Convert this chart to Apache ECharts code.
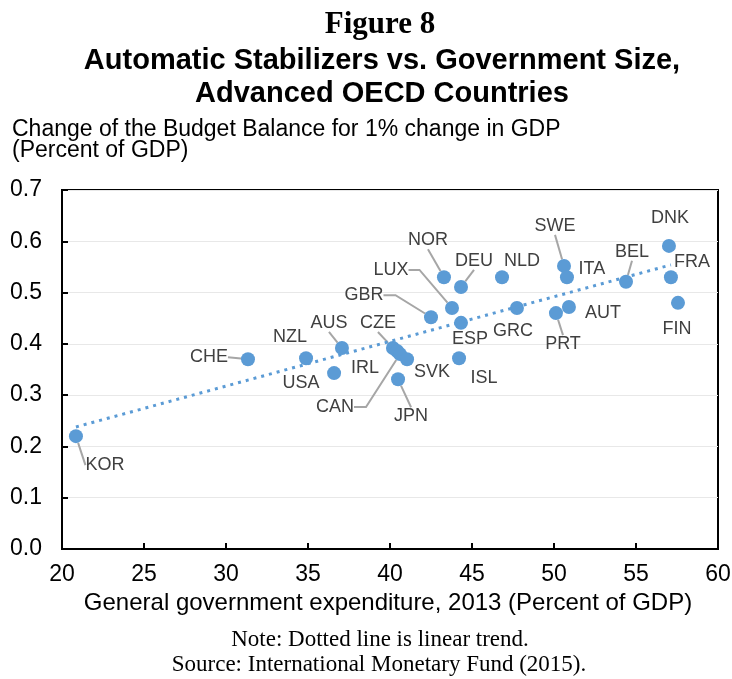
<!DOCTYPE html>
<html>
<head>
<meta charset="utf-8">
<script src="https://cdn.jsdelivr.net/npm/echarts@6/dist/echarts.min.js"></script>
<style>
html,body{margin:0;padding:0;background:#fff;}
#chart{width:732px;height:679px;}
</style>
</head>
<body>
<div id="chart"></div>
<script>
// ---- Data ----
const countries   = ['KOR','CHE','NZL','USA','AUS','CZE','IRL','CAN','SVK','JPN','ISL','ESP','GRC','GBR','LUX','NOR','DEU','NLD','SWE','ITA','PRT','AUT','BEL','DNK','FRA','FIN'];
const expenditure = [20.85, 31.34, 34.88, 36.59, 37.07, 40.18, 40.43, 40.61, 41.04, 40.49, 44.21, 44.33, 47.74, 42.50, 43.78, 43.29, 44.33, 46.83, 50.61, 50.79, 50.12, 50.91, 54.39, 57.01, 57.13, 57.56];
const stabilizer  = [0.220, 0.370, 0.372, 0.343, 0.392, 0.392, 0.386, 0.380, 0.370, 0.331, 0.372, 0.441, 0.470, 0.452, 0.470, 0.530, 0.511, 0.530, 0.552, 0.530, 0.460, 0.472, 0.521, 0.591, 0.530, 0.480];
const trendX = [20.85, 57.13];
const trendY = [0.238, 0.554];

// ---- Label placement (offsets of label centre from its point, in px) ----
const labelOffsets = {
  KOR:[29,29], CHE:[-39,-2], NZL:[-16,-21], USA:[-33,10], AUS:[-13,-25], CZE:[-15,-25],
  IRL:[-32,17], CAN:[-65,53], SVK:[25,13], JPN:[13,37], ISL:[25,20], ESP:[9,16],
  GRC:[-4,23], GBR:[-67,-22], LUX:[-61,-38], NOR:[-16,-37], DEU:[13,-26], NLD:[20,-16],
  SWE:[-9,-40], ITA:[25,-8], PRT:[7,31], AUT:[34,6], BEL:[6,-30], DNK:[1,-28],
  FRA:[21,-15], FIN:[-1,26]
};
const leaderCountries = ['KOR','CHE','AUS','CZE','CAN','JPN','GBR','LUX','NOR','DEU','SWE','PRT','BEL'];
const leaderElbow = {CAN:12, GBR:12, LUX:11};

const SANS = '"Liberation Sans", Arial, sans-serif';
const SERIF = '"Liberation Serif", "Times New Roman", serif';
const BLUE = '#5b9bd5';

const scatterData = countries.map((c, i) => {
  const item = { name: c, value: [expenditure[i], stabilizer[i]] };
  if (leaderCountries.indexOf(c) >= 0) {
    item.labelLine = { show: true, length2: leaderElbow[c] || 0, lineStyle: { color: '#a6a6a6', width: 2 } };
  } else {
    item.labelLine = { show: false };
  }
  return item;
});
const trendData = trendX.map((x, i) => [x, trendY[i]]);

const chart = echarts.init(document.getElementById('chart'), null, { renderer: 'canvas' });
chart.setOption({
  animation: false,
  backgroundColor: '#fff',
  grid: {
    left: 62, right: 14, top: 190, bottom: 130,
    show: true, borderColor: '#000', borderWidth: 2,
    outerBoundsMode: 'none', containLabel: false
  },
  xAxis: {
    type: 'value', min: 20, max: 60, interval: 5,
    axisLine: { show: true, onZero: false, lineStyle: { color: '#000', width: 2 } },
    axisTick: { show: true, inside: true, length: 6, lineStyle: { color: '#000', width: 2 } },
    axisLabel: { margin: 14, fontSize: 23, fontFamily: SANS, color: '#000' },
    splitLine: { show: false }
  },
  yAxis: {
    type: 'value', min: 0, max: 0.7, interval: 0.1,
    axisLine: { show: true, onZero: false, lineStyle: { color: '#000', width: 2 } },
    axisTick: { show: true, inside: true, length: 6, lineStyle: { color: '#000', width: 2 } },
    axisLabel: { margin: 20, fontSize: 23, fontFamily: SANS, color: '#000', formatter: v => v.toFixed(1) },
    splitLine: { show: true, lineStyle: { color: '#e8e8e8', width: 1 } }
  },
  series: [
    {
      type: 'scatter',
      z: 2,
      data: scatterData,
      symbol: 'circle',
      symbolSize: 14,
      itemStyle: { color: BLUE, opacity: 1 },
      label: {
        show: true, position: 'inside',
        formatter: p => p.name,
        fontSize: 18, fontFamily: SANS, color: '#404040'
      },
      labelLine: { show: false, lineStyle: { color: '#a6a6a6', width: 2 } },
      labelLayout: params => {
        const o = labelOffsets[countries[params.dataIndex]] || [0, 0];
        return { dx: o[0], dy: o[1] };
      },
      emphasis: { disabled: true }
    },
    {
      type: 'line',
      z: 3,
      data: trendData,
      showSymbol: false,
      symbol: 'none',
      lineStyle: { color: BLUE, width: 3, type: [3, 5] },
      silent: true
    }
  ],
  graphic: [
    { type: 'text', x: 380, y: 25, style: { text: 'Figure 8', fontSize: 31, fontWeight: 'bold', fontFamily: SERIF, fill: '#000', align: 'center', verticalAlign: 'middle' } },
    { type: 'text', x: 382, y: 61, style: { text: 'Automatic Stabilizers vs. Government Size,', fontSize: 29, fontWeight: 'bold', fontFamily: SANS, fill: '#000', align: 'center', verticalAlign: 'middle' } },
    { type: 'text', x: 382, y: 94, style: { text: 'Advanced OECD Countries', fontSize: 29, fontWeight: 'bold', fontFamily: SANS, fill: '#000', align: 'center', verticalAlign: 'middle' } },
    { type: 'text', x: 12, y: 130, style: { text: 'Change of the Budget Balance for 1% change in GDP', fontSize: 23, fontFamily: SANS, fill: '#000', align: 'left', verticalAlign: 'middle' } },
    { type: 'text', x: 12, y: 151, style: { text: '(Percent of GDP)', fontSize: 23, fontFamily: SANS, fill: '#000', align: 'left', verticalAlign: 'middle' } },
    { type: 'text', x: 388, y: 603, style: { text: 'General government expenditure, 2013 (Percent of GDP)', fontSize: 24, fontFamily: SANS, fill: '#000', align: 'center', verticalAlign: 'middle' } },
    { type: 'text', x: 380, y: 640, style: { text: 'Note: Dotted line is linear trend.', fontSize: 23, fontFamily: SERIF, fill: '#000', align: 'center', verticalAlign: 'middle' } },
    { type: 'text', x: 379, y: 665, style: { text: 'Source: International Monetary Fund (2015).', fontSize: 23, fontFamily: SERIF, fill: '#000', align: 'center', verticalAlign: 'middle' } }
  ]
});
</script>
</body>
</html>
